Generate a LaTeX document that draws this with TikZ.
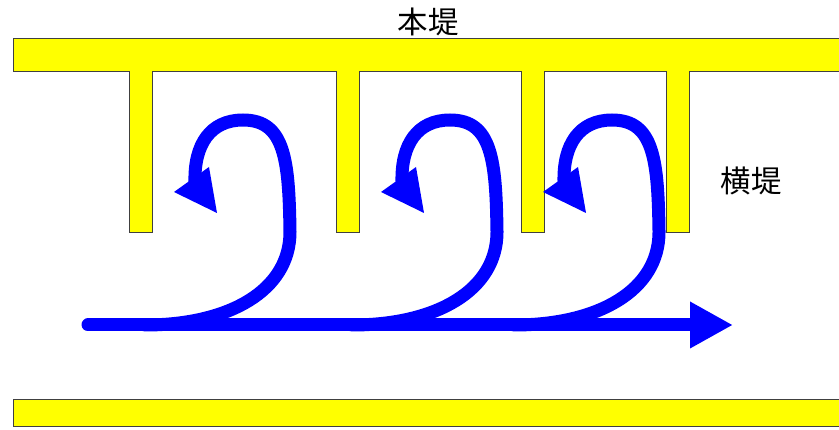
\documentclass[tikz,border=0pt]{standalone}
\usepackage{fontspec}
\newfontfamily\jpfont{Noto Sans CJK JP}
\usetikzlibrary{arrows.meta}
\definecolor{dikeYellow}{RGB}{255,255,0}
\definecolor{flowBlue}{RGB}{0,0,255}

\begin{document}
\begin{tikzpicture}[x=0.03cm, y=-0.03cm,
dike/.style={draw=black!75, line width=.8pt, fill=dikeYellow},
%
flow/.style={draw=flowBlue, line width=0.39cm, line cap=round, line join=round},
%
flowhead/.style={fill=flowBlue},
%
label/.style={font=\jpfont\fontsize{26}{30}\selectfont, inner sep=0pt}]

\useasboundingbox (0,0) rectangle (839,430);
\clip (0,0) rectangle (839,430);

\begin{scope}
  %%%%%%%%%%%%%%%%%%%%%%%%%%%%%%
  \draw [dike] (13.5,38.5) -- (845,38.5) -- (845,71)
    -- (689.3,71) -- (689.3,232) -- (666.7,232) -- (666.7,71)
    -- (544.3,71) -- (544.3,232) -- (521.3,232) -- (521.3,71)
    -- (359.5,71) -- (359.5,232) -- (336.5,232) -- (336.5,71)
    -- (152,71) -- (152,232) -- (129,232) -- (129,71)
    -- (13.5,71) -- cycle;
  %%%%%%%%%%%%%%%%%%%%%%%%%%%%%%
  \draw [dike] (13.5,399) rectangle (845,426.3);
\end{scope}

\begin{scope}
  \draw [flow] (145,325) .. controls (230,325) and (290,290) .. (290,232)
    .. controls (289,160) and (285,120) .. (243,120)
    .. controls (210,120) and (194,145) .. (195,182);
  \fill [flowhead] (174,192) -- (209,167) -- (217,213) -- cycle;
\end{scope}

\begin{scope}[xshift=6.21cm]
  \draw [flow] (145,325) .. controls (230,325) and (290,290) .. (290,232)
    .. controls (289,160) and (285,120) .. (243,120)
    .. controls (210,120) and (194,145) .. (195,182);
  \fill [flowhead] (174,192) -- (209,167) -- (217,213) -- cycle;
\end{scope}

\begin{scope}[xshift=11.07cm]
  \draw [flow] (145,325) .. controls (230,325) and (290,290) .. (290,232)
    .. controls (289,160) and (285,120) .. (243,120)
    .. controls (210,120) and (194,145) .. (195,182);
  \fill [flowhead] (174,192) -- (209,167) -- (217,213) -- cycle;
\end{scope}

\begin{scope}
  \draw [flow, -{Triangle[length=1.29cm, width=1.31cm]}] (88,325) -- (733,325);
  %%%%%%%%%%%%%%%%%%%%%%%%%%%%%%
  \node [label] (honTei) at (428,22) {本堤};
  \node [label] (yokoTei) at (751,181) {横堤};
\end{scope}

\end{tikzpicture}
\end{document}
